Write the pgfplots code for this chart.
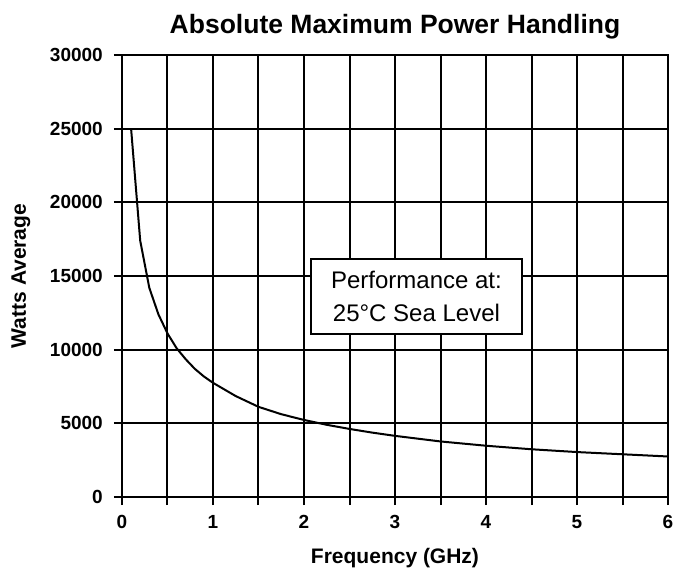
\documentclass[border=0pt]{standalone}
\usepackage{pgfplots}
\pgfplotsset{compat=1.18}
\usepackage{fontspec}
\setmainfont{Liberation Sans}
\begin{document}
\begin{tikzpicture}
\begin{axis}[
  scale only axis,
  width=546pt, height=442pt,
  xmin=0, xmax=6, ymin=0, ymax=30000,
  xtick={0,1,2,3,4,5,6},
  minor xtick={0.5,1.5,2.5,3.5,4.5,5.5},
  ytick={0,5000,10000,15000,20000,25000,30000},
  grid=both,
  major grid style={black, line width=2pt},
  minor grid style={black, line width=2pt},
  axis line style={black, line width=2pt},
  tick style={black, line width=2pt},
  tick align=outside,
  tick pos=left,
  major tick length=8pt,
  minor tick length=8pt,
  /pgf/number format/assume math mode=true,
  /pgf/number format/1000 sep={},
  scaled y ticks=false,
  tick label style={font=\fontsize{19}{19}\selectfont\bfseries},
  yticklabel style={anchor=east, inner sep=0pt, xshift=-11pt},
  xticklabel style={anchor=north, inner sep=0pt, yshift=-10pt},
  title={Absolute Maximum Power Handling},
  title style={font=\fontsize{26.5}{26.5}\selectfont\bfseries, at={(0.5,1)}, anchor=base, yshift=15pt, inner sep=0pt},
  xlabel={Frequency (GHz)},
  xlabel style={font=\fontsize{21}{21}\selectfont\bfseries, at={(0.5,0)}, anchor=base, yshift=-66pt, inner sep=0pt},
  ylabel={Watts Average},
  ylabel style={font=\fontsize{21}{21}\selectfont\bfseries, at={(0,0.5)}, anchor=base, yshift=96pt, inner sep=0pt},
  clip=false,
]
\addplot[black, line width=2pt, mark=none] coordinates {
(0.1,25000) (0.2,17400) (0.3,14200) (0.4,12400) (0.5,11100) (0.6,10100)
(0.7,9350) (0.8,8700) (0.9,8180) (1.0,7750) (1.25,6850) (1.5,6120)
(1.75,5620) (2.0,5230) (2.25,4900) (2.5,4620) (2.75,4370) (3.0,4150)
(3.5,3770) (4.0,3480) (4.5,3240) (5.0,3050) (5.5,2900) (6.0,2750)
};
\node[draw=black, line width=2pt, fill=white, minimum width=211pt, minimum height=75pt,
      align=center, inner sep=0pt, font=\fontsize{24}{33}\selectfont]
  at (axis cs:3.236,13600) {Performance at:\\25\textdegree C Sea Level};
\end{axis}
\pgfresetboundingbox
\path[use as bounding box] (-122pt,-78pt) rectangle (554pt,497pt);
\end{tikzpicture}
\end{document}
